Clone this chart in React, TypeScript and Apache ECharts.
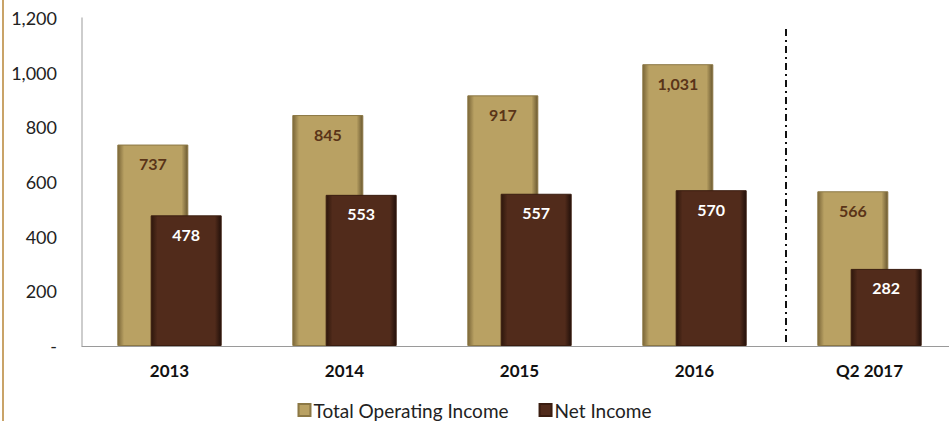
import React, { useEffect, useRef } from "react";
import * as echarts from "echarts";

const categories = ["2013", "2014", "2015", "2016", "Q2 2017"];
const totalOperatingIncome = [737, 845, 917, 1031, 566];
const netIncome = [478, 553, 557, 570, 282];
const yTicks = { min: 0, max: 1200, interval: 200 };

const goldFill = new echarts.graphic.LinearGradient(0, 0, 1, 0, [
  { offset: 0, color: "#7a6638" },
  { offset: 0.09, color: "#b9a163" },
  { offset: 0.91, color: "#b9a163" },
  { offset: 1, color: "#6a5830" },
]);
const brownFill = new echarts.graphic.LinearGradient(0, 0, 1, 0, [
  { offset: 0, color: "#2e170c" },
  { offset: 0.09, color: "#512b1b" },
  { offset: 0.91, color: "#512b1b" },
  { offset: 1, color: "#22100a" },
]);

export default function App() {
  const ref = useRef<HTMLDivElement>(null);
  useEffect(() => {
    document.body.style.margin = "0";
    const chart = echarts.init(ref.current!, null, { renderer: "svg" });
    const font = "Lato, 'Open Sans', sans-serif";
    chart.setOption({
      animation: false,
      textStyle: { fontFamily: font },
      grid: {
        left: 82,
        top: 18,
        right: -8,
        bottom: 75,
        containLabel: false,
        outerBoundsMode: "none",
      },
      legend: {
        top: 400,
        left: "center",
        padding: 0,
        itemWidth: 12,
        itemHeight: 12,
        itemGap: 30,
        icon: "rect",
        textStyle: {
          fontSize: 19,
          lineHeight: 20,
          color: "#222",
          fontFamily: font,
          padding: [0, 0, 0, -2],
        },
        data: ["Total Operating Income", "Net Income"],
      },
      xAxis: {
        type: "category",
        data: categories,
        axisLine: { lineStyle: { color: "#9a9a9a", width: 1 } },
        axisTick: { show: false },
        axisLabel: { fontSize: 17, fontWeight: "bold", color: "#111", margin: 16 },
      },
      yAxis: {
        type: "value",
        min: yTicks.min,
        max: yTicks.max,
        interval: yTicks.interval,
        axisLine: { show: true, lineStyle: { color: "#bdbdbd", width: 1.5 } },
        axisTick: { show: false },
        splitLine: { show: false },
        axisLabel: {
          fontSize: 18,
          color: "#222",
          margin: 25,
          formatter: (v: number) => (v === 0 ? "-" : v.toLocaleString("en-US")),
        },
      },
      series: [
        {
          name: "Total Operating Income",
          type: "bar",
          data: totalOperatingIncome,
          barWidth: 71,
          barGap: "-53%",
          itemStyle: { color: goldFill, borderColor: "#8c7845", borderWidth: 1 },
          label: {
            show: true,
            position: "insideTop",
            distance: 11,
            fontSize: 16,
            fontWeight: "bold",
            color: "#5a3418",
            formatter: (p: any) => p.value.toLocaleString("en-US"),
          },
        },
        {
          name: "Net Income",
          type: "bar",
          data: netIncome,
          barWidth: 71,
          itemStyle: { color: brownFill, borderColor: "#3a1d10", borderWidth: 1 },
          label: {
            show: true,
            position: "insideTop",
            distance: 11,
            fontSize: 16,
            fontWeight: "bold",
            color: "#ffffff",
          },
        },
      ],
    });
    const p3 = chart.convertToPixel({ xAxisIndex: 0 }, categories[3]) as number;
    const p4 = chart.convertToPixel({ xAxisIndex: 0 }, categories[4]) as number;
    const sepX = (p3 + p4) / 2 + 4;
    const topY = chart.convertToPixel({ yAxisIndex: 0 }, 1160) as number;
    const baseY = chart.convertToPixel({ yAxisIndex: 0 }, 0) as number;
    chart.setOption({
      graphic: [
        {
          type: "rect",
          shape: { x: 2, y: 0, width: 2, height: 421 },
          style: { fill: "#c9a368" },
        },
        {
          type: "line",
          shape: { x1: sepX, y1: topY, x2: sepX, y2: baseY },
          style: { stroke: "#111", lineWidth: 2, lineDash: [7, 4, 2, 4] },
        },
      ],
    });
    return () => chart.dispose();
  }, []);
  return (
    <div
      ref={ref}
      style={{ position: "absolute", left: 0, top: 0, width: 949, height: 421 }}
    />
  );
}
